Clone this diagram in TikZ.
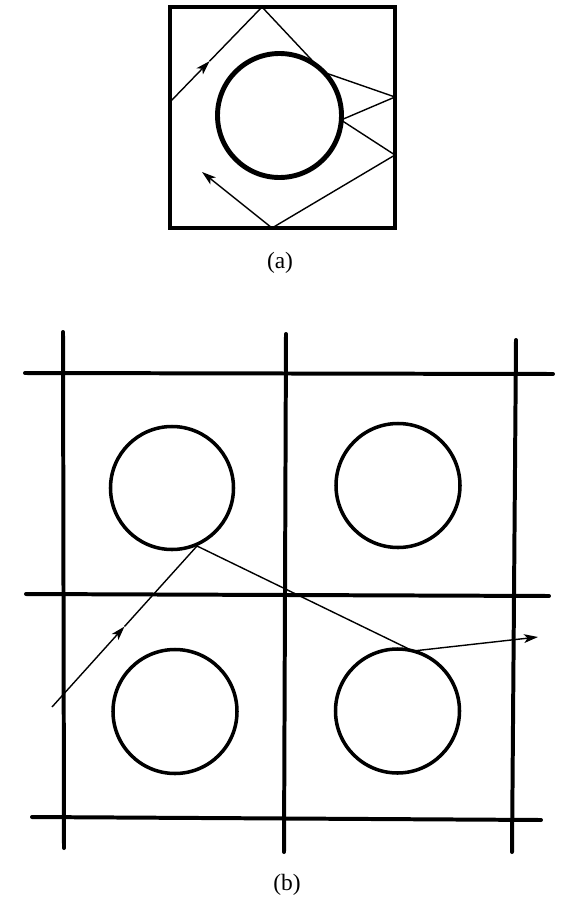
\documentclass[tikz,border=0pt]{standalone}
\usepackage{fontspec}
\setmainfont{Liberation Serif}
\usetikzlibrary{arrows.meta,calc}
\tikzset{
  wall/.style={line width=3.4pt,line cap=round},
  rod/.style={line width=3pt},
  roda/.style={line width=4.2pt},
  ray/.style={line width=1.2pt},
  rayarrow/.style={ray,-{Stealth[length=12pt,width=7.5pt,inset=3pt]}},
  lbl/.style={font=\fontsize{20}{24}\selectfont,inner sep=0pt}
}
\begin{document}
\begin{tikzpicture}[x=0.03cm,y=-0.03cm]
\useasboundingbox (0,0) rectangle (567,897);
% ---------- (a) ----------
\draw[wall,line cap=butt] (170,7) rectangle (395,228);
\draw[roda] (279.5,115.5) circle (62);
\coordinate (a0) at (170,102);
\coordinate (a1) at (262,7);
\coordinate (a2) at (323,72);
\coordinate (a3) at (395,97);
\coordinate (a4) at (341,120);
\coordinate (a5) at (395,155);
\coordinate (a6) at (272,228);
\coordinate (a7) at (202,172);
\coordinate (am) at ($(a0)!0.43!(a1)$);
\draw[rayarrow] (a0) -- (am);
\draw[ray,line join=miter] (am) -- (a1) -- (a2) -- (a3) -- (a4) -- (a5) -- (a6);
\draw[rayarrow] (a6) -- (a7);
\node[lbl] (la) at (280,263) {(a)};
% ---------- (b) ----------
\draw[wall] (25,373) -- (553,374);
\draw[wall] (26,594) -- (549,596);
\draw[wall] (32,817) -- (541,820);
\draw[wall] (63,332) -- (64,848);
\draw[wall] (286,334) -- (284,852);
\draw[wall] (516,340) -- (512,852);
\draw[rod] (172,488) circle (61.5);
\draw[rod] (398,485.5) circle (62);
\draw[rod] (175,711.5) circle (62);
\draw[rod] (397.5,711) circle (62);
\coordinate (b0) at (52,707);
\coordinate (b1) at (197,546);
\coordinate (b2) at (413,651);
\coordinate (b3) at (538,637);
\coordinate (bm) at ($(b0)!0.5!(b1)$);
\draw[rayarrow] (b0) -- (bm);
\draw[ray] (bm) -- (b1) -- (b2);
\draw[rayarrow] (b2) -- (b3);
\node[lbl] (lb) at (287,885) {(b)};
\end{tikzpicture}
\end{document}
